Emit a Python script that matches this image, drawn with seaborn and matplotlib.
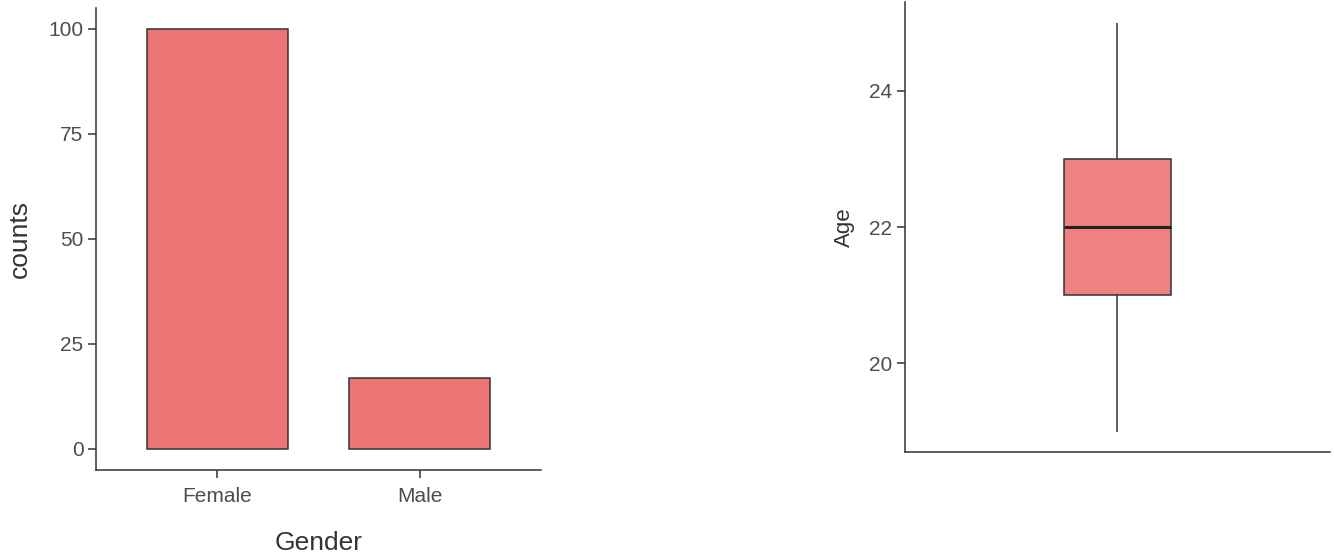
import matplotlib
matplotlib.use("Agg")
import matplotlib.pyplot as plt
import seaborn as sns
import pandas as pd

# Counts per gender
genders = ["Female", "Male"]
counts = [100, 17]

# Participant ages
ages = [19, 20, 21, 21, 22, 22, 22, 23, 23, 24, 25]

bar_color = "#EC7474"
box_color = "#EE8282"
edge_color = "#333333"
tick_color = "#4D4D4D"
title_color = "#333333"

sns.set_theme(style="white")
plt.rcParams["font.family"] = ["Liberation Sans", "DejaVu Sans"]

fig = plt.figure(figsize=(13.34, 5.52), dpi=100)
ax1 = fig.add_axes([0.072, 0.1486, 0.3336, 0.837])
ax2 = fig.add_axes([0.6784, 0.1812, 0.3186, 0.815])

# Left panel: bar chart of counts
df_counts = pd.DataFrame({"Gender": genders, "counts": counts})
sns.barplot(data=df_counts, x="Gender", y="counts", ax=ax1, color=bar_color,
            width=0.7, edgecolor=edge_color, linewidth=1.1, saturation=1)
ax1.set_xlim(-0.6, 1.6)
ax1.set_ylim(-5, 105)
ax1.set_yticks([0, 25, 50, 75, 100])
ax1.set_xlabel("Gender", fontsize=19, color=title_color, labelpad=18)
ax1.set_ylabel("counts", fontsize=19, color=title_color, labelpad=12)
ax1.tick_params(axis="y", labelsize=15, colors=tick_color, length=6, width=1.1,
                left=True, pad=3)
ax1.tick_params(axis="x", labelsize=15, colors=tick_color, length=6, width=1.1,
                bottom=True, pad=6)

# Right panel: box plot of ages
df_age = pd.DataFrame({"Age": ages})
sns.boxplot(data=df_age, y="Age", ax=ax2, color=box_color, width=0.5,
            saturation=1, linecolor=edge_color, linewidth=1.1,
            medianprops={"linewidth": 2.2, "color": "#222222"},
            whiskerprops={"linewidth": 1.1}, capprops={"linewidth": 0})
ax2.set_xlim(-1, 1)
ax2.set_ylim(18.7, 25.3)
ax2.set_yticks([20, 22, 24])
ax2.set_xticks([])
ax2.set_xlabel("")
ax2.set_ylabel("Age", fontsize=16, color=title_color, labelpad=10)
ax2.tick_params(axis="y", labelsize=15, colors=tick_color, length=6, width=1.1,
                left=True, pad=3)

for ax in (ax1, ax2):
    sns.despine(ax=ax)
    for side in ("left", "bottom"):
        ax.spines[side].set_color("#333333")
        ax.spines[side].set_linewidth(1.1)
    ax.tick_params(color="#333333")

fig.savefig("out.png", dpi=100)
